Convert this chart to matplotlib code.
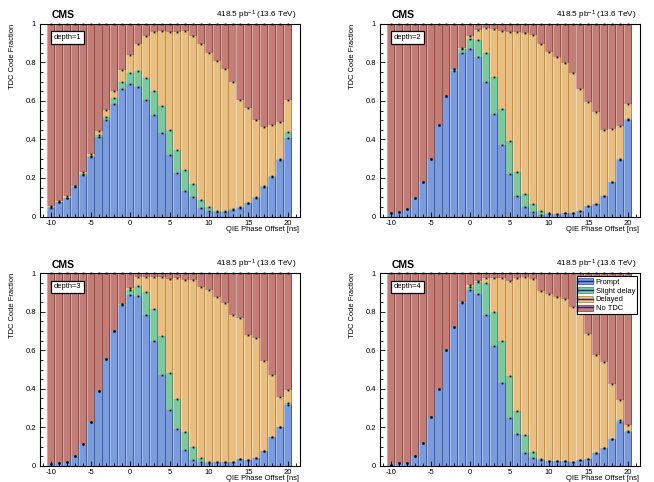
import numpy as np
import matplotlib
matplotlib.use("Agg")
import matplotlib.pyplot as plt
from matplotlib.patches import Patch
from matplotlib.lines import Line2D
from matplotlib.ticker import MultipleLocator, FuncFormatter

plt.rcParams["font.family"] = ["Liberation Sans", "DejaVu Sans"]
plt.rcParams["axes.unicode_minus"] = False
plt.rcParams["mathtext.fontset"] = "custom"
plt.rcParams["mathtext.rm"] = "Liberation Sans"
plt.rcParams["mathtext.default"] = "rm"

# QIE phase offset bin centres [ns], 1 ns bins
phase = np.arange(-10, 21)

# cumulative TDC code fractions:
# top of "Prompt", top of "Prompt+Slight delay", top of "Prompt+Slight+Delayed"
# (the rest up to 1 is "No TDC")
d1_prompt = [0.045, 0.073, 0.095, 0.153, 0.214, 0.309, 0.413, 0.503, 0.587, 0.660, 0.688,
             0.674, 0.604, 0.526, 0.434, 0.321, 0.226, 0.135, 0.100, 0.045, 0.028, 0.021,
             0.024, 0.035, 0.045, 0.069, 0.097, 0.153, 0.205, 0.292, 0.410]
d1_slight = [0.048, 0.076, 0.098, 0.156, 0.220, 0.316, 0.425, 0.517, 0.613, 0.700, 0.745,
             0.757, 0.717, 0.653, 0.573, 0.451, 0.347, 0.240, 0.170, 0.087, 0.049, 0.028,
             0.027, 0.038, 0.047, 0.072, 0.100, 0.157, 0.210, 0.300, 0.440]
d1_delayed = [0.057, 0.082, 0.104, 0.161, 0.229, 0.326, 0.443, 0.552, 0.653, 0.760, 0.840,
              0.896, 0.937, 0.960, 0.965, 0.960, 0.957, 0.964, 0.940, 0.896, 0.847, 0.807,
              0.764, 0.700, 0.604, 0.566, 0.500, 0.465, 0.474, 0.490, 0.604]

d2_prompt = [0.017, 0.023, 0.038, 0.095, 0.179, 0.300, 0.477, 0.625, 0.757, 0.847, 0.870,
             0.830, 0.700, 0.535, 0.370, 0.222, 0.109, 0.049, 0.023, 0.010, 0.014, 0.014,
             0.019, 0.019, 0.028, 0.054, 0.066, 0.106, 0.179, 0.295, 0.500]
d2_slight = [0.017, 0.023, 0.038, 0.095, 0.179, 0.300, 0.477, 0.625, 0.764, 0.868, 0.920,
             0.917, 0.847, 0.726, 0.556, 0.390, 0.231, 0.115, 0.066, 0.026, 0.016, 0.015,
             0.020, 0.020, 0.029, 0.055, 0.067, 0.107, 0.180, 0.297, 0.505]
d2_delayed = [0.017, 0.023, 0.038, 0.095, 0.179, 0.300, 0.477, 0.625, 0.766, 0.875, 0.940,
              0.969, 0.977, 0.974, 0.965, 0.960, 0.960, 0.951, 0.944, 0.894, 0.856, 0.830,
              0.795, 0.748, 0.660, 0.595, 0.542, 0.448, 0.457, 0.469, 0.587]

d3_prompt = [0.010, 0.012, 0.020, 0.050, 0.115, 0.230, 0.390, 0.555, 0.700, 0.835, 0.885,
             0.880, 0.784, 0.650, 0.470, 0.292, 0.190, 0.083, 0.029, 0.021, 0.016, 0.019,
             0.019, 0.020, 0.036, 0.029, 0.038, 0.076, 0.149, 0.200, 0.318]
d3_slight = [0.010, 0.012, 0.020, 0.050, 0.115, 0.230, 0.390, 0.555, 0.700, 0.840, 0.912,
             0.936, 0.905, 0.817, 0.673, 0.483, 0.348, 0.176, 0.099, 0.040, 0.018, 0.020,
             0.020, 0.021, 0.037, 0.030, 0.039, 0.077, 0.150, 0.202, 0.327]
d3_delayed = [0.010, 0.012, 0.020, 0.050, 0.115, 0.230, 0.390, 0.555, 0.700, 0.840, 0.925,
              0.979, 0.980, 0.979, 0.979, 0.972, 0.976, 0.967, 0.965, 0.927, 0.912, 0.877,
              0.846, 0.785, 0.768, 0.682, 0.664, 0.547, 0.474, 0.356, 0.396]

d4_prompt = [0.005, 0.015, 0.015, 0.050, 0.120, 0.255, 0.400, 0.600, 0.720, 0.845, 0.915,
             0.890, 0.785, 0.621, 0.430, 0.250, 0.166, 0.067, 0.038, 0.028, 0.024, 0.024,
             0.024, 0.021, 0.028, 0.033, 0.067, 0.093, 0.140, 0.228, 0.176]
d4_slight = [0.005, 0.015, 0.015, 0.050, 0.120, 0.255, 0.400, 0.600, 0.720, 0.850, 0.930,
             0.955, 0.950, 0.800, 0.647, 0.465, 0.284, 0.159, 0.071, 0.033, 0.026, 0.025,
             0.025, 0.022, 0.029, 0.034, 0.068, 0.094, 0.141, 0.240, 0.180]
d4_delayed = [0.005, 0.015, 0.015, 0.050, 0.120, 0.255, 0.400, 0.600, 0.720, 0.850, 0.940,
              0.960, 0.975, 0.976, 0.976, 0.958, 0.976, 0.979, 0.972, 0.910, 0.893, 0.875,
              0.868, 0.824, 0.798, 0.685, 0.574, 0.540, 0.426, 0.344, 0.211]

categories = ["Prompt", "Slight delay", "Delayed", "No TDC"]
# (fill, dark right edge, light left edge) -- ROOT "bar" look
COLORS = [("#7c9bd9", "#3d60b6", "#a7bbe8"),
          ("#80c7a1", "#3f9e6d", "#aedcc3"),
          ("#e6bf86", "#d38a2c", "#f1d8b3"),
          ("#c07e78", "#a5453c", "#d4a7a3")]

depths = [(1, d1_prompt, d1_slight, d1_delayed),
          (2, d2_prompt, d2_slight, d2_delayed),
          (3, d3_prompt, d3_slight, d3_delayed),
          (4, d4_prompt, d4_slight, d4_delayed)]

W, H = 654, 482
fig = plt.figure(figsize=(W / 100, H / 100), dpi=100)
boxes = [(39.5, 24), (379.5, 24), (39.5, 273.3), (379.5, 273.3)]  # left, top in px
aw, ah = 260, 192.5


def draw_panel(ax, depth, prompt, slight, delayed):
    prompt, slight, delayed = map(np.asarray, (prompt, slight, delayed))
    one = np.ones_like(prompt)
    layers = [(np.zeros_like(prompt), prompt), (prompt, slight), (slight, delayed), (delayed, one)]
    for (lo, hi), (fill, dark, light) in zip(layers, COLORS):
        h = hi - lo
        ax.bar(phase, h, bottom=lo, width=1.0, color=fill, linewidth=0)
        ax.bar(phase + 0.44, h, bottom=lo, width=0.12, color=dark, linewidth=0)
        ax.bar(phase - 0.45, h, bottom=lo, width=0.10, color=light, linewidth=0)
    for top in (prompt, slight, delayed, one):
        ax.plot(phase, top, ls="none", marker="s", ms=1.3, mew=0, color="k", clip_on=False)

    ax.set_xlim(-11.5, 21.5)
    ax.set_ylim(0, 1)
    ax.xaxis.set_major_locator(MultipleLocator(5))
    ax.xaxis.set_minor_locator(MultipleLocator(1))
    ax.yaxis.set_major_locator(MultipleLocator(0.2))
    ax.yaxis.set_minor_locator(MultipleLocator(0.05))
    ax.yaxis.set_major_formatter(FuncFormatter(lambda v, p: f"{v:g}"))
    ax.tick_params(which="both", direction="in", top=False, right=False,
                   labelsize=5.5, width=0.6, pad=2.5)
    ax.tick_params(which="major", length=3.8)
    ax.tick_params(which="minor", length=2.0)
    for s in ax.spines.values():
        s.set_linewidth(0.8)

    ax.set_ylabel("TDC Code Fraction", fontsize=5.4, loc="top")
    ax.yaxis.set_label_coords(-0.09, 1.0)
    ax.set_xlabel("QIE Phase Offset [ns]", fontsize=5.4, loc="right")
    ax.xaxis.set_label_coords(1.0, -0.05)

    ax.text(0.048, 1.045, "CMS", transform=ax.transAxes, fontsize=7.5,
            fontweight="bold", ha="left", va="center")
    ax.text(0.99, 1.045, r"418.5 pb$^{-1}$ (13.6 TeV)", transform=ax.transAxes,
            fontsize=5.9, ha="right", va="center")
    ax.text(0.055, 0.93, f"depth={depth}", transform=ax.transAxes, fontsize=5.4,
            ha="left", va="center",
            bbox=dict(boxstyle="square,pad=0.35", fc="white", ec="black", lw=0.9))


for (left, top), (depth, p, s, d) in zip(boxes, depths):
    ax = fig.add_axes([left / W, 1 - (top + ah) / H, aw / W, ah / H])
    draw_panel(ax, depth, p, s, d)
    if depth == 4:
        handles = [(Patch(facecolor=c[0], edgecolor=c[1], lw=0.6),
                    Line2D([], [], color="#1f2a80", lw=1.0)) for c in COLORS]
        leg = ax.legend(handles, categories, loc="upper right", bbox_to_anchor=(0.99, 0.985),
                        fontsize=5.4, frameon=True, fancybox=False, edgecolor="black",
                        framealpha=1, handlelength=2.0, handleheight=0.9, handletextpad=0.3,
                        labelspacing=0.15, borderpad=0.25, borderaxespad=0)
        leg.get_frame().set_linewidth(0.8)

fig.savefig("out.png", dpi=100)
